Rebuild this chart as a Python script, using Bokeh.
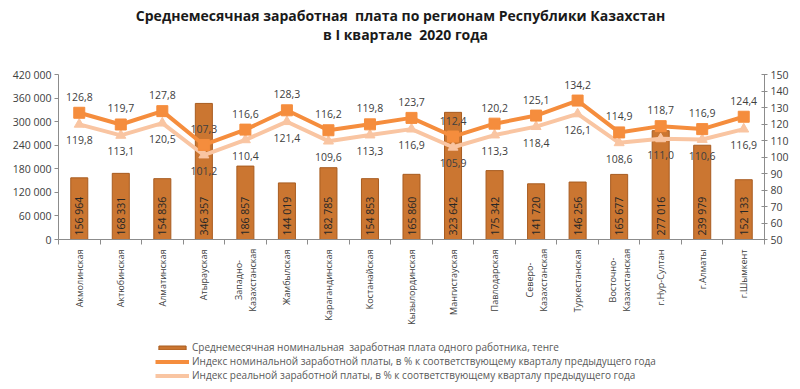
import numpy as np
from bokeh.plotting import figure
from bokeh.layouts import column
from bokeh.models import Range1d, LinearAxis, FixedTicker, Legend, LegendItem
from bokeh.core.properties import value
from bokeh.embed import file_html
from bokeh.resources import INLINE

regions = ["Акмолинская", "Актюбинская", "Алматинская", "Атырауская",
           "Западно-\nКазахстанская", "Жамбылская", "Карагандинская", "Костанайская",
           "Кызылординская", "Мангистауская", "Павлодарская", "Северо-\nКазахстанская",
           "Туркестанская", "Восточно-\nКазахстанская", "г.Нур-Султан", "г.Алматы", "г.Шымкент"]
wages = [156964, 168331, 154836, 346357, 186857, 144019, 182785, 154853, 165860,
         323642, 175342, 141720, 146256, 165677, 277016, 239979, 152133]
nominal = [126.8, 119.7, 127.8, 107.3, 116.6, 128.3, 116.2, 119.8, 123.7,
           112.4, 120.2, 125.1, 134.2, 114.9, 118.7, 116.9, 124.4]
real = [119.8, 113.1, 120.5, 101.2, 110.4, 121.4, 109.6, 113.3, 116.9,
        105.9, 113.3, 118.4, 126.1, 108.6, 111.0, 110.6, 116.9]
left_ticks = [0, 60000, 120000, 180000, 240000, 300000, 360000, 420000]
right_ticks = [50, 60, 70, 80, 90, 100, 110, 120, 130, 140, 150]

title_lines = ["Среднемесячная заработная\u00a0 плата по регионам Республики Казахстан",
               "в I квартале\u00a0 2020 года"]
legend_labels = ["Среднемесячная номинальная\u00a0 заработная плата одного работника, тенге",
                 "Индекс номинальной заработной платы, в % к соответствующему кварталу предыдущего года",
                 "Индекс реальной заработной платы, в % к соответствующему кварталу предыдущего года"]

BAR = "#CB7631"
BAR_EDGE = "#A85C20"
NOM = "#F58D3D"
REAL = "#F9C5A2"
AX = "#8C8C8C"
TXT = "#404040"
FONT = "Open Sans"
W = 800
FL, FR = 58, 764   # frame edges shared by the stacked plots (pixels)

def strip(h, xr, yr):
    f = figure(width=W, height=h, output_backend="svg", toolbar_location=None,
               x_range=xr, y_range=yr, x_axis_location=None, y_axis_location=None, min_border=0)
    f.outline_line_color = None
    f.grid.grid_line_color = None
    return f

# ---------- title strip ----------
TH = 44
pt = strip(TH, Range1d(FL, FR), Range1d(TH, 0))
pt.text(x=[400, 405], y=[15, 34], text=title_lines, text_align="center", text_baseline="middle",
        text_font=value(FONT), text_font_size="14px", text_font_style="bold", text_color="#1a1a1a")

# ---------- main chart ----------
x = list(range(len(regions)))
xr = Range1d(-0.5, len(regions) - 0.5)

p = figure(width=W, height=203, output_backend="svg", toolbar_location=None,
           x_range=xr, y_range=Range1d(left_ticks[0], left_ticks[-1]),
           min_border_left=FL, min_border_right=W - FR, min_border_top=30, min_border_bottom=8)
p.extra_y_ranges = {"idx": Range1d(right_ticks[0], right_ticks[-1])}
p.outline_line_color = None
p.xgrid.grid_line_color = None
p.ygrid.grid_line_color = None

# category axis: only the separator ticks between categories, labels drawn in the strip below
xa = p.xaxis[0]
xa.ticker = FixedTicker(ticks=[], minor_ticks=[i - 0.5 for i in range(len(regions) + 1)])
xa.major_label_standoff = 0
xa.major_tick_line_color = None
xa.minor_tick_in = 0
xa.minor_tick_out = 5
xa.minor_tick_line_color = AX
xa.axis_line_color = AX

ya = p.yaxis[0]
ya.ticker = FixedTicker(ticks=left_ticks)
ya.major_label_overrides = {t: f"{t:,}".replace(",", " ") for t in left_ticks}
ya.axis_line_color = AX
ya.major_tick_line_color = AX
ya.major_tick_in = 0
ya.major_tick_out = 4
ya.minor_tick_line_color = None
ya.major_label_text_font = FONT
ya.major_label_text_font_size = "10.5px"
ya.major_label_text_color = TXT
ya.major_label_standoff = 3

ra = LinearAxis(y_range_name="idx", ticker=FixedTicker(ticks=right_ticks))
ra.axis_line_color = AX
ra.major_tick_line_color = AX
ra.major_tick_in = 3
ra.major_tick_out = 3
ra.minor_tick_line_color = None
ra.major_label_text_font = FONT
ra.major_label_text_font_size = "10.5px"
ra.major_label_text_color = TXT
ra.major_label_standoff = 3
p.add_layout(ra, "right")

p.vbar(x=x, top=wages, width=0.41, fill_color=BAR, line_color=BAR_EDGE, line_width=1)
p.text(x=x, y=[0] * len(x), text=[f"{w:,}".replace(",", " ") for w in wages],
       angle=np.pi / 2, text_align="left", text_baseline="middle", y_offset=-4,
       text_font=value(FONT), text_font_size="10.5px", text_color="#262626")

p.line(x, real, y_range_name="idx", line_color=REAL, line_width=4)
p.scatter(x, real, y_range_name="idx", marker="triangle", size=10, fill_color=REAL, line_color=REAL)
p.line(x, nominal, y_range_name="idx", line_color=NOM, line_width=4)
p.scatter(x, nominal, y_range_name="idx", marker="square", size=11, fill_color=NOM, line_color=NOM)

p.text(x=x, y=nominal, y_range_name="idx", text=[f"{v:.1f}".replace(".", ",") for v in nominal],
       y_offset=-16, text_align="center", text_baseline="middle",
       text_font=value(FONT), text_font_size="10.5px", text_color=TXT)
p.text(x=x, y=real, y_range_name="idx", text=[f"{v:.1f}".replace(".", ",") for v in real],
       y_offset=16, text_align="center", text_baseline="middle",
       text_font=value(FONT), text_font_size="10.5px", text_color=TXT)

# ---------- category label strip (shares the x range) ----------
CH = 94
pc = strip(CH, xr, Range1d(CH, 0))
one_x, one_t = [], []
two_x, two_t, two_off, two_y = [], [], [], []
for i, r in enumerate(regions):
    parts = r.split("\n")
    if len(parts) == 1:
        one_x.append(i)
        one_t.append(r)
    else:
        mid = 2 + 0.5 * 4.7 * max(len(s) for s in parts)
        for k, s in enumerate(parts):
            two_x.append(i)
            two_t.append(s)
            two_off.append(-7 + 14 * k)
            two_y.append(mid)
lab = dict(angle=np.pi / 2, text_baseline="middle", text_font=value(FONT),
           text_font_size="9px", text_color=TXT)
pc.text(x=one_x, y=[2] * len(one_x), text=one_t, text_align="right", **lab)
pc.text(x=two_x, y=two_y, text=two_t, x_offset=two_off, text_align="center", **lab)

# ---------- legend strip (swatches use a point outside the visible range) ----------
LH = 48
pl = strip(LH, Range1d(0, 1), Range1d(0, 1))
off = [-10]
lb = pl.vbar(x=off, top=off, width=0.4, fill_color=BAR, line_color=BAR_EDGE)
ln1 = pl.line(off, off, line_color=NOM, line_width=4)
lm1 = pl.scatter(off, off, marker="square", size=7, fill_color=NOM, line_color=NOM)
ln2 = pl.line(off, off, line_color=REAL, line_width=4)
legend = Legend(items=[LegendItem(label=legend_labels[0], renderers=[lb]),
                       LegendItem(label=legend_labels[1], renderers=[ln1, lm1]),
                       LegendItem(label=legend_labels[2], renderers=[ln2])],
                location=(155 - FL, 7), orientation="vertical", border_line_color=None,
                background_fill_alpha=0, padding=0, margin=0, spacing=-1,
                glyph_height=5, glyph_width=34, label_height=9, label_standoff=3,
                label_text_font=FONT, label_text_font_size="10px", label_text_color="#595959")
pl.add_layout(legend, "center")

layout = column(pt, p, pc, pl, spacing=0)
open("out.html", "w").write(file_html(layout, INLINE))
